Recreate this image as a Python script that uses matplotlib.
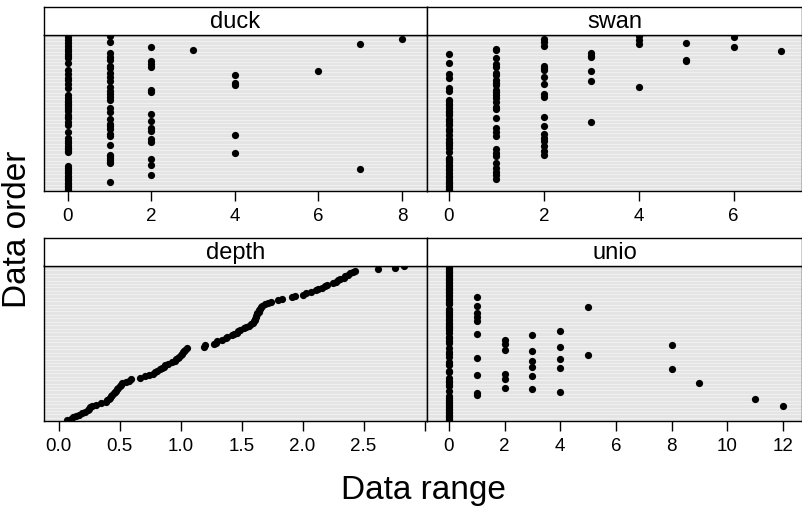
import numpy as np
import matplotlib
matplotlib.use("Agg")
import matplotlib.pyplot as plt

plt.rcParams['font.family'] = ['Liberation Sans', 'DejaVu Sans']

# values per row (row 1 = bottom of each panel, rows sorted by depth)
duck = [0, 0, 0, 0, 0, 0, 1, 0, 0, 0,
        0, 2, 0, 0, 0, 7, 0, 0, 2, 1,
        1, 1, 2, 1, 1, 1, 4, 0, 0, 0,
        0, 0, 1, 0, 2, 0, 2, 0, 1, 4,
        1, 0, 2, 1, 2, 1, 0, 1, 0, 2,
        1, 0, 0, 0, 2, 1, 0, 0, 1, 0,
        0, 0, 0, 0, 1, 0, 1, 0, 1, 2,
        1, 2, 0, 1, 4, 0, 4, 1, 0, 0,
        1, 4, 0, 1, 6, 0, 1, 2, 1, 2,
        0, 2, 1, 0, 1, 0, 0, 1, 0, 3,
        0, 2, 0, 7, 0, 1, 0, 8, 0, 1]

swan = [0, 0, 0, 0, 0, 0, 0, 0, 1, 0,
        0, 1, 0, 1, 0, 0, 1, 0, 0, 1,
        0, 0, 0, 0, 1, 2, 1, 0, 2, 1,
        0, 2, 0, 0, 0, 2, 0, 2, 1, 0,
        2, 1, 0, 0, 1, 2, 0, 0, 3, 0,
        0, 1, 2, 0, 0, 0, 0, 1, 0, 1,
        0, 0, 1, 0, 0, 1, 2, 1, 2, 1,
        0, 1, 0, 4, 1, 2, 1, 3, 1, 0,
        2, 1, 0, 1, 3, 2, 2, 1, 2, 1,
        0, 5, 5, 1, 3, 3, 0, 3, 7, 1,
        1, 6, 2, 4, 5, 2, 4, 2, 6, 4]

depth = [0.07, 0.10, 0.12, 0.14, 0.17, 0.19, 0.22, 0.24, 0.25, 0.26,
         0.27, 0.31, 0.35, 0.39, 0.40, 0.41, 0.42, 0.43, 0.44, 0.45,
         0.46, 0.47, 0.48, 0.49, 0.50, 0.51, 0.52, 0.55, 0.58, 0.59,
         0.67, 0.71, 0.74, 0.77, 0.79, 0.81, 0.83, 0.85, 0.86, 0.87,
         0.90, 0.93, 0.95, 0.96, 0.98, 0.99, 1.00, 1.01, 1.02, 1.03,
         1.04, 1.05, 1.19, 1.20, 1.27, 1.29, 1.30, 1.34, 1.37, 1.38,
         1.42, 1.44, 1.46, 1.47, 1.49, 1.52, 1.54, 1.56, 1.58, 1.59,
         1.60, 1.61, 1.61, 1.62, 1.62, 1.63, 1.63, 1.64, 1.64, 1.65,
         1.66, 1.67, 1.69, 1.72, 1.74, 1.80, 1.83, 1.91, 1.94, 2.00,
         2.03, 2.07, 2.11, 2.13, 2.16, 2.18, 2.20, 2.25, 2.27, 2.29,
         2.31, 2.34, 2.35, 2.37, 2.39, 2.41, 2.43, 2.62, 2.76, 2.83]

unio = [0, 0, 0, 0, 0, 0, 0, 0, 0, 0,
        12, 0, 0, 0, 0, 11, 0, 0, 1, 1,
        4, 0, 3, 2, 0, 0, 9, 0, 0, 2,
        0, 3, 1, 2, 0, 0, 8, 4, 3, 0,
        0, 0, 3, 4, 1, 0, 5, 0, 0, 3,
        2, 0, 4, 8, 2, 0, 0, 2, 0, 0,
        3, 1, 0, 4, 0, 0, 0, 0, 0, 0,
        1, 0, 0, 1, 0, 0, 1, 0, 0, 0,
        5, 1, 0, 0, 0, 0, 0, 1, 0, 0,
        0, 0, 0, 0, 0, 0, 0, 0, 0, 0,
        0, 0, 0, 0, 0, 0, 0, 0, 0, 0]

panel_names = ["duck", "swan", "depth", "unio"]
panel_data = [duck, swan, depth, unio]
panel_ticks = [[0, 2, 4, 6, 8],
               [0, 2, 4, 6],
               [0.0, 0.5, 1.0, 1.5, 2.0, 2.5, 3.0],
               [0, 2, 4, 6, 8, 10, 12]]
panel_ticklabels = [["0", "2", "4", "6", "8"],
                    ["0", "2", "4", "6"],
                    ["0.0", "0.5", "1.0", "1.5", "2.0", "2.5", ""],
                    ["0", "2", "4", "6", "8", "10", "12"]]
panel_xlim = [(-0.57, 8.6), (-0.46, 7.44), (-0.12, 3.02), (-0.79, 12.69)]

W, H = 803, 511
fig = plt.figure(figsize=(W / 100, H / 100), dpi=100)

def px_axes(x0, y0, x1, y1):
    # pixel box (top-left origin) -> figure axes
    return fig.add_axes([x0 / W, 1 - y1 / H, (x1 - x0) / W, (y1 - y0) / H])

cols = [(44, 427), (427, 802)]
rows = [(7, 35, 191), (238, 265.5, 421)]

n = len(depth)
order = np.arange(1, n + 1)

for k, name in enumerate(panel_names):
    r, c = divmod(k, 2)
    x0, x1 = cols[c]
    s0, p0, p1 = rows[r]

    ax = px_axes(x0, p0, x1, p1)
    ax.set_facecolor("#f2f2f2")
    for yi in order:
        ax.axhline(yi, color="#e4e4e4", lw=0.8, zorder=1)
    ax.plot(panel_data[k], order, "o", color="black", ms=5.2,
            mec="black", mew=0, zorder=3)
    ax.set_xlim(panel_xlim[k])
    ax.set_ylim(0.4, n + 0.6)
    ax.set_yticks([])
    ax.set_xticks(panel_ticks[k])
    ax.set_xticklabels(panel_ticklabels[k], fontsize=13.5)
    ax.tick_params(axis="x", direction="out", length=7, width=1, pad=5)
    for sp in ax.spines.values():
        sp.set_linewidth(1)

    st = px_axes(x0, s0, x1, p0)
    st.set_xticks([])
    st.set_yticks([])
    for sp in st.spines.values():
        sp.set_linewidth(1)
    st.text(0.5, 0.45, name, ha="center", va="center", fontsize=17,
            transform=st.transAxes)

fig.text(18 / W, 1 - 229 / H, "Data order", rotation=90, ha="center",
         va="center", fontsize=24)
fig.text(423 / W, 1 - 490 / H, "Data range", ha="center", va="center",
         fontsize=24)

fig.savefig("out.png", dpi=100)
